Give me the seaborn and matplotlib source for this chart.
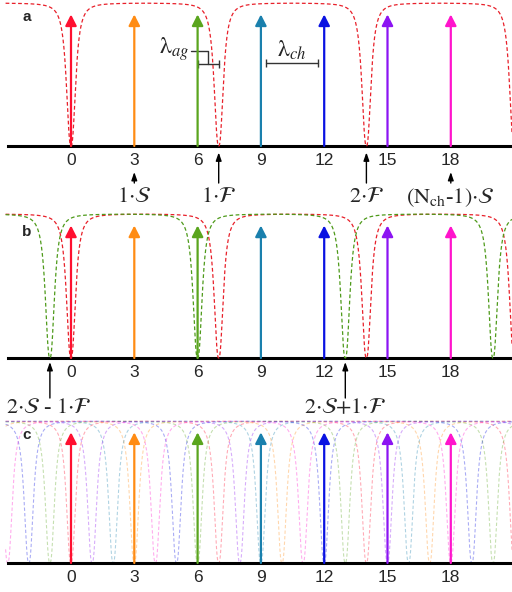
import numpy as np
import matplotlib
matplotlib.use("Agg")
import matplotlib.pyplot as plt
import seaborn as sns

# ============================
# Data
# ============================
channels = [0, 3, 6, 9, 12, 15, 18]
tick_labels = ["0", "3", "6", "9", "12", "15", "18"]
ch_colors = ["#ff1030", "#ff8c14", "#5aa51e", "#1a80ad", "#0a12e2", "#8c14f2", "#ff14cc"]

fsr = 7            # free spectral range (F)
half_width = 0.245 # notch half width
shape_exp = 2.5    # notch steepness

# ring resonances (one per FSR period)
res_a = [0]                 # panel a: red ring
res_b_red = [0]             # panel b: red ring
res_b_green = [-1]          # panel b: green ring (2S - 1F)
res_c = channels            # panel c: one ring per channel

sns.set_theme(style="white")
plt.rcParams["mathtext.fontset"] = "stix"
plt.rcParams["font.family"] = ["Liberation Sans", "DejaVu Sans"]

x = np.linspace(-3.1, 21.2, 4000)


def notch(x0):
    d = ((x - x0 + fsr / 2) % fsr) - fsr / 2
    return 1 - 1 / (1 + np.abs(d / half_width) ** shape_exp)


fig = plt.figure(figsize=(5.12, 5.92), dpi=100)
# px rows: a 0-200, b 200-415, c 415-592
ax_a = fig.add_axes([0, 1 - 200 / 592, 1, 200 / 592])
ax_b = fig.add_axes([0, 1 - 415 / 592, 1, 215 / 592])
ax_c = fig.add_axes([0, 0, 1, 177 / 592])

ylims = {"a": (-54 / 143, 146 / 143), "b": (-57 / 144, 158 / 144), "c": (-29 / 142, 148 / 142)}
xlim = (-71 / 21.1, 441 / 21.1)
dash = (0, (3, 2))


def base(ax, key, letter, ly):
    ax.set_xlim(*xlim)
    ax.set_ylim(*ylims[key])
    for s in ["top", "left", "right"]:
        ax.spines[s].set_visible(False)
    ax.spines["bottom"].set_position(("data", 0))
    ax.spines["bottom"].set_bounds(-3, 21.5)
    ax.spines["bottom"].set_color("black")
    ax.spines["bottom"].set_linewidth(2.2)
    ax.set_yticks([])
    ax.set_xticks(channels)
    ax.set_xticklabels(tick_labels, fontsize=12.5)
    ax.tick_params(axis="x", length=0, pad=5)
    ax.patch.set_alpha(0)
    ax.text(-2.08, ly, letter, fontsize=11, fontweight="bold", ha="center", va="center")


def arrows(ax):
    for c, col in zip(channels, ch_colors):
        ax.annotate("", xy=(c, 0.92), xytext=(c, 0),
                    arrowprops=dict(arrowstyle="-|>,head_length=0.55,head_width=0.28",
                                    color=col, lw=1.6, shrinkA=0, shrinkB=0), zorder=3)


def pointer(ax, xp, y0, y1):
    ax.annotate("", xy=(xp, y1), xytext=(xp, y0), annotation_clip=False,
                arrowprops=dict(arrowstyle="-|>,head_length=0.4,head_width=0.14",
                                color="black", lw=1.0, shrinkA=0, shrinkB=0))


serif = dict(family=["Liberation Serif", "DejaVu Serif"], fontsize=16, ha="center", va="center")

# ---------- panel a ----------
base(ax_a, "a", "a", 0.90)
for r in res_a:
    sns.lineplot(x=x, y=notch(r), ax=ax_a, color="#e8202a", lw=0.9, linestyle=dash,
                 estimator=None, sort=False, zorder=4)
arrows(ax_a)
pointer(ax_a, 3, -0.259, -0.182)
pointer(ax_a, 7, -0.259, -0.045)
pointer(ax_a, 14, -0.259, -0.045)
pointer(ax_a, 18, -0.259, -0.182)
ax_a.text(3, -0.36, r"$1{\cdot}\mathcal{S}$", **serif)
ax_a.text(7, -0.36, r"$1{\cdot}\mathcal{F}$", **serif)
ax_a.text(14, -0.36, r"$2{\cdot}\mathcal{F}$", **serif)
ax_a.text(18, -0.36, r"$(\mathrm{N_{ch}}$-$1){\cdot}\mathcal{S}$", **serif)

# lambda_ag bracket
ax_a.plot([5.69, 6.49, 6.49], [0.664, 0.664, 0.573], color="#333333", lw=1.0)
ax_a.plot([6.02, 7.01], [0.573, 0.573], color="#333333", lw=1.0)
ax_a.plot([6.02, 7.01], [0.573, 0.573], ls="none", marker="|", ms=6, mew=1.0, color="#333333")
ax_a.text(5.62, 0.68, r"$\mathrm{\lambda}_{ag}$", **{**serif, "ha": "right", "fontsize": 17})
# lambda_ch bar
ax_a.plot([9.24, 11.7], [0.58, 0.58], color="#333333", lw=1.0)
ax_a.plot([9.24, 11.7], [0.58, 0.58], ls="none", marker="|", ms=6, mew=1.0, color="#333333")
ax_a.text(10.47, 0.67, r"$\mathrm{\lambda}_{ch}$", **{**serif, "fontsize": 17})

# ---------- panel b ----------
base(ax_b, "b", "b", 0.875)
for r in res_b_red:
    sns.lineplot(x=x, y=notch(r), ax=ax_b, color="#e8202a", lw=0.9, linestyle=dash,
                 estimator=None, sort=False, zorder=4)
for r in res_b_green:
    sns.lineplot(x=x, y=notch(r), ax=ax_b, color="#4e9a1a", lw=0.9, linestyle=dash,
                 estimator=None, sort=False, zorder=4)
arrows(ax_b)
pointer(ax_b, -1, -0.278, -0.028)
pointer(ax_b, 13, -0.278, -0.028)
ax_b.text(-1.05, -0.35, r"$2{\cdot}\mathcal{S}$ - $1{\cdot}\mathcal{F}$", **serif)
ax_b.text(13, -0.35, r"$2{\cdot}\mathcal{S}{+}1{\cdot}\mathcal{F}$", **serif)

# ---------- panel c ----------
base(ax_c, "c", "c", 0.90)
for r, col in zip(res_c, ch_colors):
    sns.lineplot(x=x, y=notch(r), ax=ax_c, color=col, alpha=0.35, lw=0.8, linestyle=dash,
                 estimator=None, sort=False, zorder=2)
arrows(ax_c)

fig.savefig("out.png", dpi=100)
